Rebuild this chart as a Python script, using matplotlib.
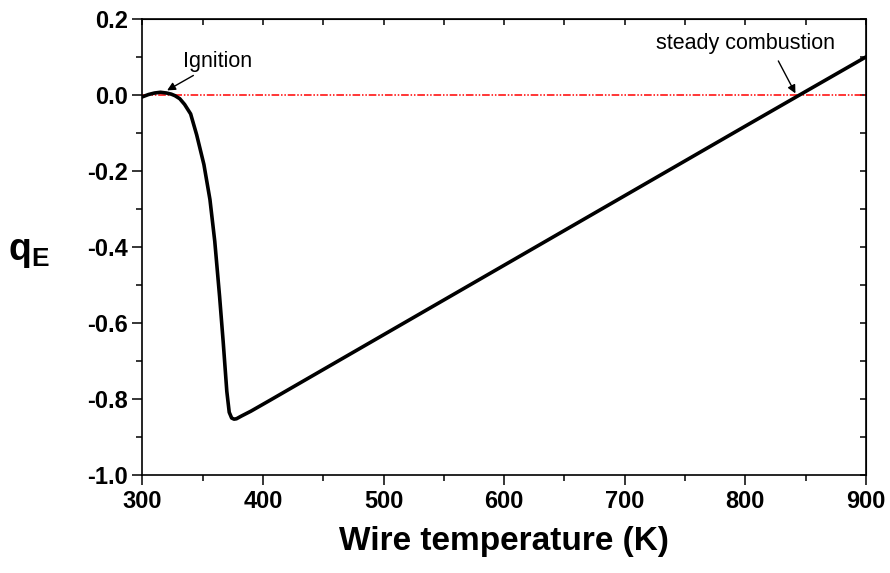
import matplotlib
matplotlib.use('Agg')
import matplotlib.pyplot as plt
from matplotlib import rcParams

rcParams['font.family'] = ['Liberation Sans', 'DejaVu Sans']
rcParams['mathtext.fontset'] = 'custom'
rcParams['mathtext.bf'] = 'Liberation Sans:bold'
rcParams['mathtext.rm'] = 'Liberation Sans'

# curve: wire temperature (K) vs q_E
temperature = [300, 305, 310, 315, 320, 324, 327, 331, 335, 340, 345, 351, 356,
               360, 364, 367, 370, 372, 374, 376, 378, 382, 390, 406, 500, 600,
               700, 800, 845, 900]
q_e = [-0.005, 0.001, 0.005, 0.007, 0.005, 0.002, -0.002, -0.01, -0.025, -0.05,
       -0.105, -0.183, -0.275, -0.385, -0.53, -0.65, -0.78, -0.835, -0.85,
       -0.853, -0.852, -0.845, -0.832, -0.803, -0.631, -0.448, -0.265, -0.082,
       0.0, 0.10]

x_ticks = [300, 400, 500, 600, 700, 800, 900]
y_ticks = [-1.0, -0.8, -0.6, -0.4, -0.2, 0.0, 0.2]

fig = plt.figure(figsize=(8.9, 5.73), dpi=100)
ax = fig.add_axes([0.16, 0.171, 0.813, 0.796])

# zero reference line
ax.plot([300, 900], [0, 0], color='#ff0000', lw=1.1,
        dashes=(5, 1.2, 1, 1.2, 1, 1.2))
ax.plot(temperature, q_e, color='black', lw=2.6, solid_joinstyle='round')

ax.set_xlim(300, 900)
ax.set_ylim(-1.0, 0.2)
ax.set_xticks(x_ticks)
ax.set_yticks(y_ticks)
ax.set_xticks(range(350, 900, 100), minor=True)
ax.set_yticks([-0.9, -0.7, -0.5, -0.3, -0.1, 0.1], minor=True)
ax.set_yticklabels(['%.1f' % v for v in y_ticks])
ax.tick_params(which='major', direction='out', length=7, width=1.1,
               labelsize=17)
ax.tick_params(which='minor', direction='out', length=4, width=1.1)
for lab in ax.get_xticklabels() + ax.get_yticklabels():
    lab.set_fontweight('bold')
for sp in ax.spines.values():
    sp.set_linewidth(1.2)

# inward ticks on top and right, no labels
top = ax.secondary_xaxis('top')
top.set_xticks(list(range(300, 901, 50)))
top.tick_params(direction='in', length=4, width=1.1, labeltop=False)
right = ax.secondary_yaxis('right')
right.set_yticks([-1.0, -0.9, -0.8, -0.7, -0.6, -0.5, -0.4, -0.3, -0.2, -0.1,
                  0.0, 0.1, 0.2])
right.tick_params(direction='in', length=4, width=1.1, labelright=False)

ax.set_xlabel('Wire temperature (K)', fontsize=24, fontweight='bold',
              labelpad=10)
ax.set_ylabel(r'$\mathbf{q}_{\mathbf{E}}$', fontsize=27, rotation=0,
              ha='center', va='center')
ax.yaxis.set_label_coords(-0.157, 0.49)

ax.annotate('Ignition', xy=(320.5, 0.012), xytext=(334, 0.088),
            fontsize=15.5, va='center', ha='left',
            arrowprops=dict(arrowstyle='-|>', color='black', lw=1,
                            mutation_scale=12, shrinkA=1, shrinkB=0))
ax.annotate('steady combustion', xy=(841.5, 0.004), xytext=(725.5, 0.134),
            fontsize=15.5, va='center', ha='left',
            arrowprops=dict(arrowstyle='-|>', color='black', lw=1,
                            mutation_scale=12, shrinkA=3, shrinkB=0,
                            relpos=(0.667, 0.0)))

plt.savefig('out.png', dpi=100)
